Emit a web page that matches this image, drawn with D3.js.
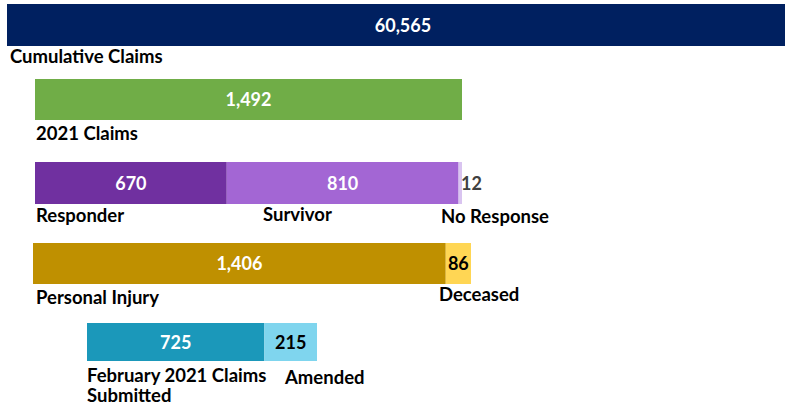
<!DOCTYPE html>
<html>
<head>
<meta charset="UTF-8">
<script src="https://cdnjs.cloudflare.com/ajax/libs/d3/7.8.5/d3.min.js"></script>
<style>
  body { margin: 0; background: #ffffff; }
  text { font-family: Lato, "Open Sans", sans-serif; font-weight: bold; }
</style>
</head>
<body>
<div id="chart"></div>
<script>
// one row per bar, each row is its own stacked bar
const cumulativeLabels = ["Cumulative Claims"];
const cumulativeValues = [60565];

const claims2021Labels = ["2021 Claims"];
const claims2021Values = [1492];

const typeLabels = ["Responder", "Survivor", "No Response"];
const typeValues = [670, 810, 12];

const injuryLabels = ["Personal Injury", "Deceased"];
const injuryValues = [1406, 86];

const febLabels = ["February 2021 Claims|Submitted", "Amended"];
const febValues = [725, 215];

const width = 785, height = 409;

const svg = d3.select("#chart").append("svg")
  .attr("width", width)
  .attr("height", height);

// layout per row: x range, bar top, bar height, colours, label positions
const rows = [
  { labels: cumulativeLabels, values: cumulativeValues, x: [7, 799], y: 4, h: 42,
    colors: ["#002060"], textColors: ["#ffffff"],
    labelPos: [{ dx: 10, y: 63 }] },
  { labels: claims2021Labels, values: claims2021Values, x: [35, 462], y: 79, h: 41,
    colors: ["#70ad47"], textColors: ["#ffffff"],
    labelPos: [{ dx: 36, y: 140 }] },
  { labels: typeLabels, values: typeValues, x: [35, 462], y: 162, h: 42,
    colors: ["#7030a0", "#a366d4", "#d9c4f0"], textColors: ["#ffffff", "#ffffff", "#404040"],
    outside: [false, false, true],
    labelPos: [{ dx: 36, y: 222 }, { dx: 263, y: 221 }, { dx: 441, y: 223 }] },
  { labels: injuryLabels, values: injuryValues, x: [33, 471], y: 243, h: 41,
    colors: ["#bf9000", "#ffd654"], textColors: ["#ffffff", "#000000"],
    labelPos: [{ dx: 36, y: 304 }, { dx: 439, y: 301 }] },
  { labels: febLabels, values: febValues, x: [87, 317], y: 323, h: 38,
    colors: ["#1b98ba", "#7fd5ee"], textColors: ["#ffffff", "#000000"],
    labelPos: [{ dx: 87, y: 382 }, { dx: 285, y: 384 }] }
];

const fmt = d3.format(",");

rows.forEach((row, ri) => {
  const total = d3.sum(row.values);
  const x = d3.scaleLinear().domain([0, total]).range(row.x);
  const starts = d3.cumsum([0].concat(row.values)).slice(0, row.values.length);

  const g = svg.append("g").attr("class", "row-" + ri);

  g.selectAll("rect")
    .data(row.values)
    .enter()
    .append("rect")
    .attr("x", (d, i) => x(starts[i]))
    .attr("y", row.y)
    .attr("width", (d, i) => x(starts[i] + d) - x(starts[i]))
    .attr("height", row.h)
    .attr("fill", (d, i) => row.colors[i]);

  // value labels
  g.selectAll("text.value")
    .data(row.values)
    .enter()
    .append("text")
    .attr("class", "value")
    .attr("x", (d, i) => row.outside && row.outside[i] ? x(starts[i] + d) - 1 : (x(starts[i]) + x(starts[i] + d)) / 2)
    .attr("y", row.y + row.h / 2 + 6.5)
    .attr("text-anchor", (d, i) => row.outside && row.outside[i] ? "start" : "middle")
    .attr("fill", (d, i) => row.textColors[i])
    .style("font-size", "18px")
    .text(d => fmt(d));

  // category labels underneath
  g.selectAll("text.cat")
    .data(row.labels)
    .enter()
    .append("text")
    .attr("class", "cat")
    .attr("x", (d, i) => row.labelPos[i].dx)
    .attr("y", (d, i) => row.labelPos[i].y)
    .attr("fill", "#000000")
    .style("font-size", "18.5px")
    .each(function (d, i) {
      const lines = d.split("|");
      d3.select(this).selectAll("tspan")
        .data(lines)
        .enter()
        .append("tspan")
        .attr("x", row.labelPos[i].dx)
        .attr("dy", (l, j) => j === 0 ? 0 : 20)
        .text(l => l);
    });
});
</script>
</body>
</html>
